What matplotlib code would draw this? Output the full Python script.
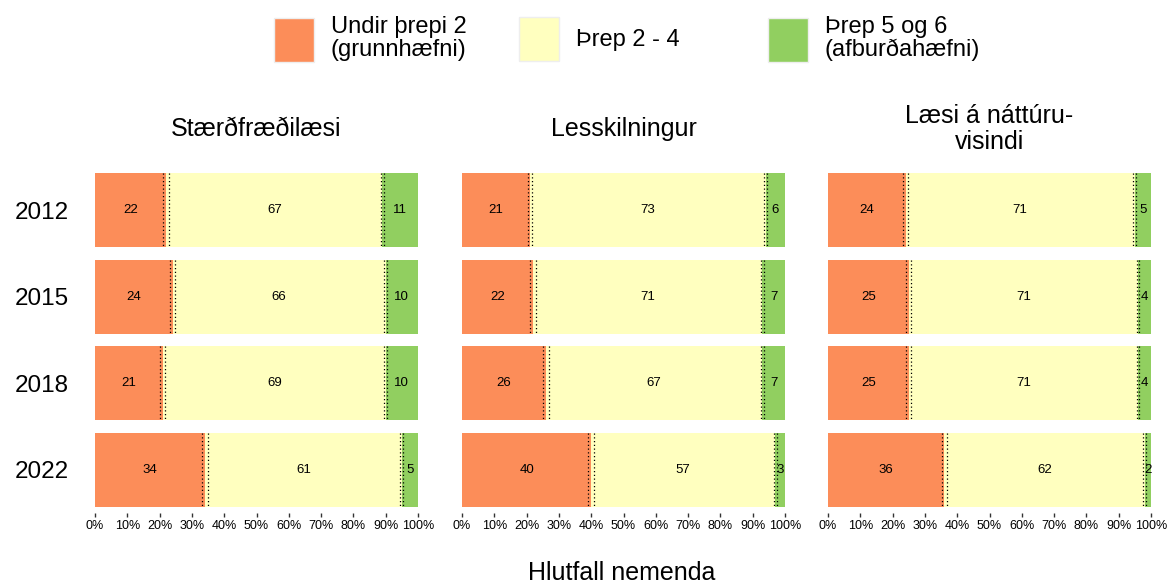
import matplotlib
matplotlib.use('Agg')
import matplotlib.pyplot as plt
from matplotlib.patches import Patch
import numpy as np

plt.rcParams['font.family'] = ['Liberation Sans', 'DejaVu Sans']

years = ['2012', '2015', '2018', '2022']
subjects = ['Stærðfræðilæsi', 'Lesskilningur', 'Læsi á náttúru-\nvisindi']
levels = ['Undir þrepi 2\n(grunnhæfni)', 'Þrep 2 - 4', 'Þrep 5 og 6\n(afburðahæfni)']
colors = ['#FC8D59', '#FFFFBF', '#91CF60']

# percentages per year: below level 2, level 2-4, level 5-6
math_low = [22, 24, 21, 34]
math_mid = [67, 66, 69, 61]
math_high = [11, 10, 10, 5]
read_low = [21, 22, 26, 40]
read_mid = [73, 71, 67, 57]
read_high = [6, 7, 7, 3]
sci_low = [24, 25, 25, 36]
sci_mid = [71, 71, 71, 62]
sci_high = [5, 4, 4, 2]

# half width of confidence intervals around the two boundaries
math_ci1 = [0.8, 0.8, 0.8, 0.9]
math_ci2 = [0.6, 0.5, 0.5, 0.5]
read_ci1 = [0.7, 0.8, 0.8, 0.95]
read_ci2 = [0.5, 0.5, 0.5, 0.45]
sci_ci1 = [0.7, 0.7, 0.7, 0.8]
sci_ci2 = [0.5, 0.4, 0.4, 0.35]

data = [
    (math_low, math_mid, math_high, math_ci1, math_ci2),
    (read_low, read_mid, read_high, read_ci1, read_ci2),
    (sci_low, sci_mid, sci_high, sci_ci1, sci_ci2),
]

fig = plt.figure(figsize=(11.68, 5.83), dpi=100)
lefts = [95, 462, 828]
pw = 323
bottom = 1 - 513 / 583
height = 346 / 583

y = np.arange(len(years))
bh = 0.86
for k, (low, mid, high, ci1, ci2) in enumerate(data):
    ax = fig.add_axes([lefts[k] / 1168, bottom, pw / 1168, height])
    low = np.array(low, float)
    mid = np.array(mid, float)
    high = np.array(high, float)
    segs = [low, mid, high]
    left = np.zeros(len(years))
    for s, c in zip(segs, colors):
        ax.barh(y, s, left=left, height=bh, color=c, edgecolor='none')
        for yi, (l, v) in enumerate(zip(left, s)):
            ax.text(l + v / 2, yi, f'{int(v)}', ha='center', va='center', fontsize=9.5)
        left = left + s
    b1 = low
    b2 = low + mid
    for yi in range(len(years)):
        for b, h in [(b1[yi], ci1[yi]), (b2[yi], ci2[yi])]:
            for xv in (b - h, b + h):
                ax.plot([xv, xv], [yi - bh / 2, yi + bh / 2], color='black',
                        lw=0.9, linestyle=(0, (1, 2)))
    ax.set_xlim(0, 100)
    ax.set_ylim(3.5, -0.5)
    ax.set_xticks(np.arange(0, 101, 10))
    ax.set_xticklabels([f'{t}%' for t in range(0, 101, 10)], fontsize=9)
    ax.tick_params(axis='x', length=3, width=1, color='#333333', pad=2)
    if k == 0:
        ax.set_yticks(y)
        ax.set_yticklabels(years, fontsize=17.5)
        ax.tick_params(axis='y', length=0, pad=19)
    else:
        ax.set_yticks([])
    for sp in ax.spines.values():
        sp.set_visible(False)
    ax.text(0.5, 1 + 38 / 346, subjects[k], transform=ax.transAxes,
            ha='center', va='center', fontsize=18, linespacing=1.15)

fig.text(622 / 1168, 1 - 573 / 583, 'Hlutfall nemenda', ha='center', va='center', fontsize=18)

leg_x = [274, 519, 768]
for i in range(3):
    leg = fig.legend(handles=[Patch(facecolor=colors[i], edgecolor='#eeeeee')], labels=[levels[i]],
                     loc='center left', bbox_to_anchor=(leg_x[i] / 1168, 1 - 39 / 583),
                     frameon=False, fontsize=17, handlelength=1.7, handleheight=2.45,
                     handletextpad=0.7, borderpad=0, borderaxespad=0)
    for t in leg.get_texts():
        t.set_linespacing(1.05)

fig.savefig('out.png', dpi=100)
